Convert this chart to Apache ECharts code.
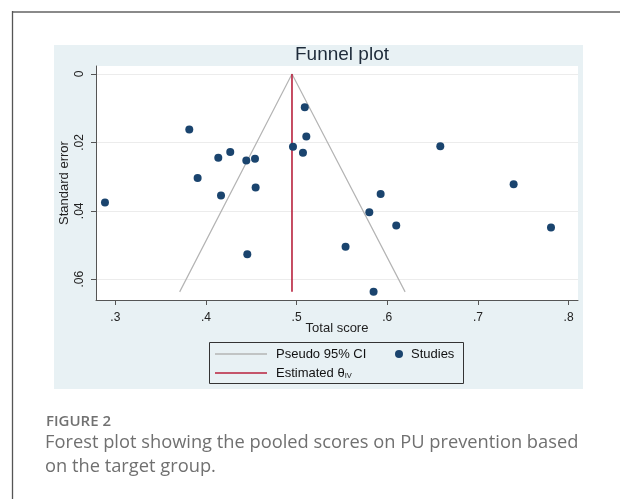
<!DOCTYPE html>
<html>
<head>
<meta charset="utf-8">
<script src="https://cdn.jsdelivr.net/npm/echarts@6/dist/echarts.min.js"></script>
<style>
html,body{margin:0;padding:0;background:#fff;}
#c{width:620px;height:499px;}
</style>
</head>
<body>
<div id="c"></div>
<script>
// ---- data ----
const studyX  = [0.3816, 0.2886, 0.4136, 0.4268, 0.4445, 0.4541, 0.3908, 0.4166, 0.4548, 0.4456, 0.4960,
                 0.5107, 0.5070, 0.5090, 0.6585, 0.7394, 0.5927, 0.5802, 0.6099, 0.7806, 0.5540, 0.5849];
const studySE = [0.0162, 0.0376, 0.0245, 0.0228, 0.0253, 0.0248, 0.0304, 0.0355, 0.0332, 0.0527, 0.0213,
                 0.0183, 0.0230, 0.0097, 0.0211, 0.0322, 0.0351, 0.0404, 0.0443, 0.0449, 0.0505, 0.0637];
const ciX = [0.371, 0.4949, 0.6197];
const ciY = [0.0637, 0, 0.0637];
const thetaX = [0.4949, 0.4949];
const thetaY = [0, 0.0637];
const xTicks = [0.3, 0.4, 0.5, 0.6, 0.7, 0.8];
const yTicks = [0, 0.02, 0.04, 0.06];

const AX = 'Liberation Sans, Arial, sans-serif';
const fmt = v => { const s = String(+v.toFixed(4)); return s.replace(/^0\./, '.'); };

const chart = echarts.init(document.getElementById('c'), null, {renderer: 'canvas'});
chart.setOption({
  animation: false,
  backgroundColor: '#ffffff',
  title: {
    text: 'Funnel plot', left: 337, top: 40, textAlign: 'center',
    textStyle: {fontFamily: AX, fontSize: 19, fontWeight: 'normal', color: '#1e2b3a'}
  },
  grid: {
    left: 96, top: 66, width: 482, height: 234,
    show: true, backgroundColor: '#ffffff', borderWidth: 0
  },
  xAxis: {
    type: 'value', min: 0.2787, max: 0.8104,
    name: 'Total score', nameLocation: 'middle', nameGap: 22, nameMoveOverlap: false,
    nameTextStyle: {fontFamily: AX, fontSize: 13, color: '#222'},
    axisLine: {show: true, onZero: false, lineStyle: {color: '#555', width: 1}},
    axisTick: {show: true, length: 5, customValues: xTicks, lineStyle: {color: '#555'}},
    axisLabel: {customValues: xTicks, margin: 12, formatter: fmt, fontFamily: AX, fontSize: 12, color: '#222'},
    splitLine: {show: false}
  },
  yAxis: {
    type: 'value', inverse: true, min: -0.00234, max: 0.06608,
    name: 'Standard error', nameLocation: 'middle', nameGap: 25, nameRotate: 90, nameMoveOverlap: false,
    nameTextStyle: {fontFamily: AX, fontSize: 13, color: '#222'},
    axisLine: {show: true, onZero: false, lineStyle: {color: '#555', width: 1}},
    axisTick: {show: true, length: 5, customValues: yTicks, lineStyle: {color: '#555'}},
    axisLabel: {customValues: yTicks, margin: 10, rotate: 90, formatter: fmt, fontFamily: AX, fontSize: 12, color: '#222'},
    splitLine: {show: true, lineStyle: {color: '#ececec', width: 1}}
  },
  legend: [
    {data: [{name: 'Pseudo 95% CI', icon: 'rect'}], left: 215, top: 347.5, padding: 0, itemWidth: 52, itemHeight: 1.3, selectedMode: false,
     formatter: '{a|{name}}', textStyle: {rich: {a: {fontFamily: AX, fontSize: 13, color: '#111', padding: [0, 0, 0, 4]}}}},
    {data: [{name: 'Studies', icon: 'circle'}], left: 395, top: 347.5, padding: 0, itemWidth: 8, itemHeight: 8, selectedMode: false,
     formatter: '{a|{name}}', textStyle: {rich: {a: {fontFamily: AX, fontSize: 13, color: '#111', padding: [0, 0, 0, 3]}}}},
    {data: [{name: 'Estimated θIV', icon: 'rect'}], left: 215, top: 366.5, padding: 0, itemWidth: 52, itemHeight: 1.5, selectedMode: false,
     formatter: '{a|Estimated θ}{s|IV}',
     textStyle: {rich: {
       a: {fontFamily: AX, fontSize: 13, color: '#111', padding: [0, 0, 0, 4]},
       s: {fontFamily: AX, fontSize: 7.5, color: '#111', verticalAlign: 'bottom', padding: [6, 0, 0, 0]}
     }}}
  ],
  series: [
    {name: 'Pseudo 95% CI', type: 'line', symbol: 'none', z: 2,
     lineStyle: {color: '#b4b4b4', width: 1.2}, itemStyle: {color: '#b4b4b4'},
     data: ciX.map((x, i) => [x, ciY[i]])},
    {name: 'Estimated θIV', type: 'line', symbol: 'none', z: 3,
     lineStyle: {color: '#b8213d', width: 1.6}, itemStyle: {color: '#b8213d'},
     data: thetaX.map((x, i) => [x, thetaY[i]])},
    {name: 'Studies', type: 'scatter', symbol: 'circle', symbolSize: 8, z: 4,
     itemStyle: {color: '#1a446e', opacity: 1},
     data: studyX.map((x, i) => [x, studySE[i]])}
  ],
  graphic: [
    {type: 'rect', z: -10, silent: true, shape: {x: 54, y: 45, width: 529, height: 344}, style: {fill: '#e8f1f4'}},
    {type: 'rect', z: 50, silent: true, shape: {x: 209.5, y: 342.5, width: 254, height: 41},
     style: {fill: 'none', stroke: '#333', lineWidth: 1}},
    {type: 'line', z: 50, silent: true, shape: {x1: 12, y1: 12, x2: 620, y2: 12}, style: {stroke: '#8a8a8a', lineWidth: 2}},
    {type: 'line', z: 50, silent: true, shape: {x1: 12.5, y1: 11, x2: 12.5, y2: 499}, style: {stroke: '#555', lineWidth: 1.3}},
    {type: 'text', z: 50, silent: true, style: {x: 46, y: 421.5, text: 'FIGURE 2', verticalAlign: 'middle',
      font: '600 15px "Open Sans", sans-serif', fill: '#717171'}},
    {type: 'text', z: 50, silent: true, style: {x: 45, y: 443, text: 'Forest plot showing the pooled scores on PU prevention based',
      verticalAlign: 'middle', font: '18.3px "Open Sans", sans-serif', fill: '#707070'}},
    {type: 'text', z: 50, silent: true, style: {x: 45, y: 467, text: 'on the target group.',
      verticalAlign: 'middle', font: '18.3px "Open Sans", sans-serif', fill: '#707070'}}
  ]
});
</script>
</body>
</html>
